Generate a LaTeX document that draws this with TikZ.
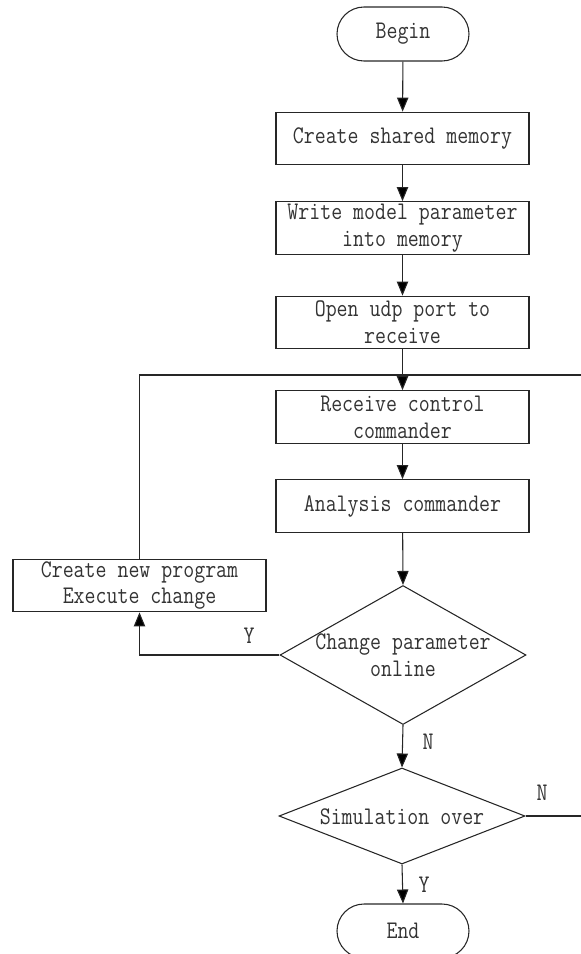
\documentclass[tikz,border=0pt]{standalone}
\usepackage{fontspec}
\setmonofont{Latin Modern Mono}[FakeStretch=0.84]
\usetikzlibrary{shapes.geometric,shapes.misc,arrows.meta}
\tikzset{
  base/.style={draw=black!85, line width=0.8pt, inner sep=0pt, align=center, text=black!80,
    font=\ttfamily\fontsize{19}{20}\selectfont},
  stepbox/.style={base, rectangle, minimum width=189.75pt, minimum height=39.5pt},
  term/.style={base, rounded rectangle, minimum width=99pt, minimum height=40.5pt},
  decide/.style={base, diamond, minimum width=184.5pt},
  txt/.style={inner sep=0pt, align=center, text=black!80, font=\ttfamily\fontsize{19}{20}\selectfont},
  lbl/.style={inner sep=0pt, text=black!80, font=\ttfamily\fontsize{19}{20}\selectfont},
  conn/.style={draw=black!85, line width=0.8pt},
  arr/.style={conn, -{Triangle[length=10.5pt,width=8.5pt,fill=black]}},
}
\begin{document}
\begin{tikzpicture}[x=0.75pt,y=-0.75pt]
\useasboundingbox (0,0) rectangle (581,954);
\node[term] (begin) at (403,34) {Begin};
\node[stepbox] (create) at (402.5,138.5) {Create shared memory};
\node[stepbox] (write) at (402.5,228) {Write model parameter\\into memory};
\node[stepbox] (open) at (402.5,322.5) {Open udp port to\\receive};
\node[stepbox] (recv) at (402.5,417) {Receive control\\commander};
\node[stepbox] (anal) at (402.5,506) {Analysis commander};
\node[stepbox] (newp) at (139.5,585.5) {Create new program\\Execute change};
\node[decide, minimum height=104.25pt] (d1) at (403,655) {};
\node[txt] (d1t) at (403,655) {Change parameter\\online};
\node[decide, minimum height=72pt] (d2) at (402,816) {};
\node[txt] (d2t) at (402,817) {Simulation over};
\node[term] (end) at (403,931) {End};
\coordinate (j) at (open.south |- 0,375);
\coordinate (r1) at (581,375);
\coordinate (r2) at (581,816);

\draw[arr] (begin) -- (create);
\draw[arr] (create) -- (write);
\draw[arr] (write) -- (open);
\draw[arr] (open) -- (recv);
\draw[arr] (recv) -- (anal);
\draw[arr] (anal) -- (d1.north);
\draw[arr] (d1.west) -| (newp.south);
\draw[conn] (newp.north) |- (j) -- (r1);
\draw[arr] (d1.south) -- (d2.north);
\draw[conn] (d2.east) -- (r2);
\draw[arr] (d2.south) -- (end.north);

\node[lbl] (ly1) at (249,636) {Y};
\node[lbl] (ln1) at (428,742) {N};
\node[lbl] (ln2) at (542,793) {N};
\node[lbl] (ly2) at (424,885) {Y};
\end{tikzpicture}
\end{document}
